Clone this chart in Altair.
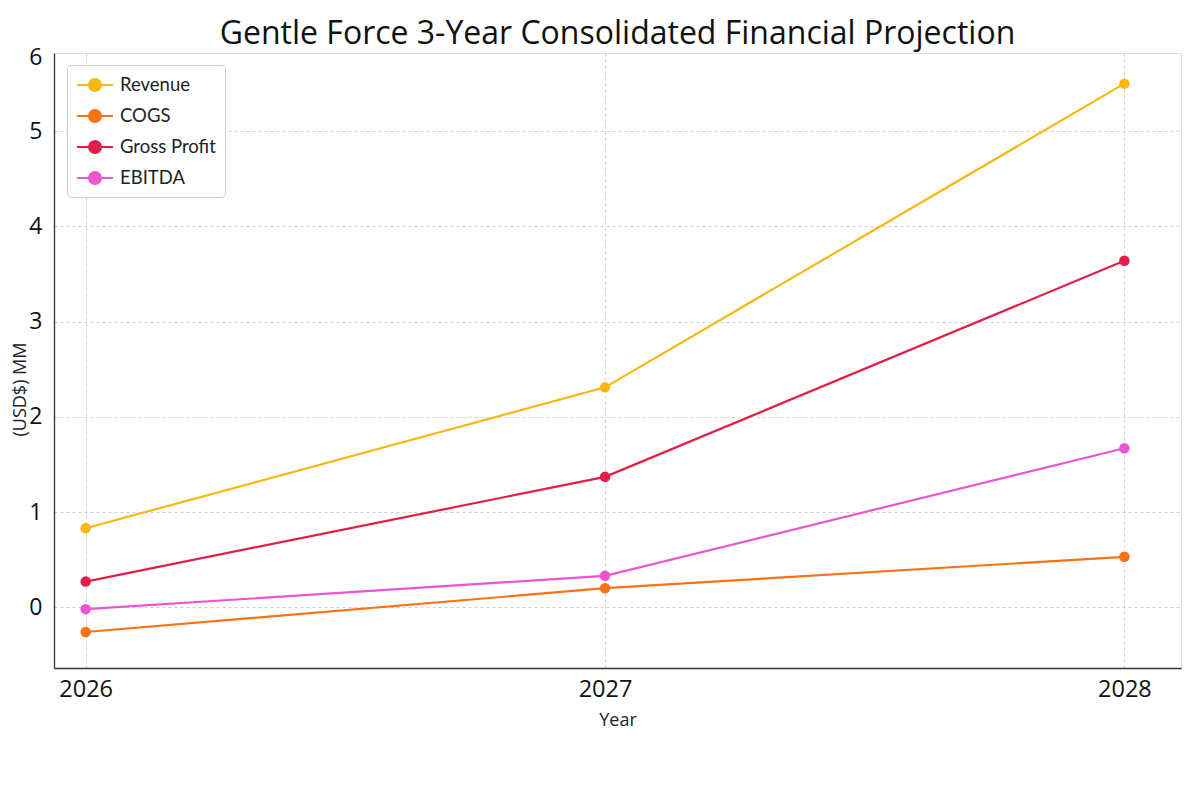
import altair as alt
import pandas as pd

years = [2026, 2027, 2028]
series = ["Revenue", "COGS", "Gross Profit", "EBITDA"]
revenue = [0.83, 2.31, 5.50]
cogs = [-0.26, 0.20, 0.53]
gross_profit = [0.27, 1.37, 3.64]
ebitda = [-0.02, 0.33, 1.67]
colors = ["#FAB70F", "#F97316", "#E11D48", "#EC55CF"]

rows = []
for name, vals in zip(series, [revenue, cogs, gross_profit, ebitda]):
    for y, v in zip(years, vals):
        rows.append({"Year": y, "Value": v, "Series": name})
df = pd.DataFrame(rows)

Y_MIN, Y_MAX = -0.638, 5.822
X_MIN, X_MAX = 2025.939, 2028.109

sym = "M-1.8,0L1.8,0M0.6,0A0.6,0.6,0,1,1,-0.6,0A0.6,0.6,0,1,1,0.6,0Z"

color = alt.Color(
    "Series:N",
    scale=alt.Scale(domain=series, range=colors),
    sort=series,
    legend=alt.Legend(
        title=None,
        orient="none",
        legendX=13,
        legendY=12,
        symbolType=sym,
        symbolSize=400,
        symbolStrokeWidth=2,
        symbolOffset=8,
        labelOffset=14,
        labelFont="Lato",
        labelFontSize=18.5,
        labelColor="#222222",
        rowPadding=10,
        padding=9,
        strokeColor="#cccccc",
        cornerRadius=4,
        fillColor="#ffffff",
    ),
)

x = alt.X(
    "Year:Q",
    scale=alt.Scale(domain=[X_MIN, X_MAX], nice=False, zero=False),
    axis=alt.Axis(
        values=years,
        format="d",
        title="Year",
        ticks=False,
        labelPadding=9,
        titlePadding=11,
        labelFontSize=23.5,
        titleFontSize=18,
        titleFontWeight="normal",
        labelColor="#111111",
        titleColor="#222222",
        labelFlush=False,
    ),
)

y = alt.Y(
    "Value:Q",
    scale=alt.Scale(domain=[Y_MIN, Y_MAX], nice=False, zero=False),
    axis=alt.Axis(
        values=[0, 1, 2, 3, 4, 5, Y_MAX],
        labelExpr="datum.value > 5.5 ? '6' : datum.label",
        title="(USD$) MM",
        ticks=False,
        labelPadding=12,
        labelFontSize=23,
        titleFontSize=18,
        titleFontWeight="normal",
        labelColor="#111111",
        titleColor="#222222",
        titleX=-25,
        titleY=336,
        gridOpacity=alt.condition("datum.value > 5.5", alt.value(0), alt.value(1)),
        labelOffset=alt.condition("datum.value > 5.5", alt.value(4), alt.value(0)),
    ),
)

base = alt.Chart(df).encode(x=x, y=y, color=color)

lines = base.mark_line(strokeWidth=2.2)
points = base.mark_point(filled=True, size=110, opacity=1)

chart = (
    alt.layer(lines, points)
    .properties(
        width=1127,
        height=615,
        title=alt.TitleParams(
            "Gentle Force 3-Year Consolidated Financial Projection",
            fontSize=32,
            font="Open Sans",
            fontWeight="normal",
            color="#111111",
            anchor="middle",
            offset=6,
            dy=11,
        ),
        padding={"left": 46, "top": 45, "right": 10, "bottom": 100},
        autosize=alt.AutoSizeParams(type="none"),
    )
    .configure_view(stroke=None)
    .configure(font="Open Sans")
    .configure_axis(
        domainColor="#333333",
        domainWidth=1.3,
        gridColor="#c4c4c4",
        gridDash=[3, 3],
        gridWidth=0.8,
        labelFont="Open Sans",
        titleFont="Open Sans",
    )
)

chart.save("out.html", embed_options={"renderer": "svg", "actions": False})
